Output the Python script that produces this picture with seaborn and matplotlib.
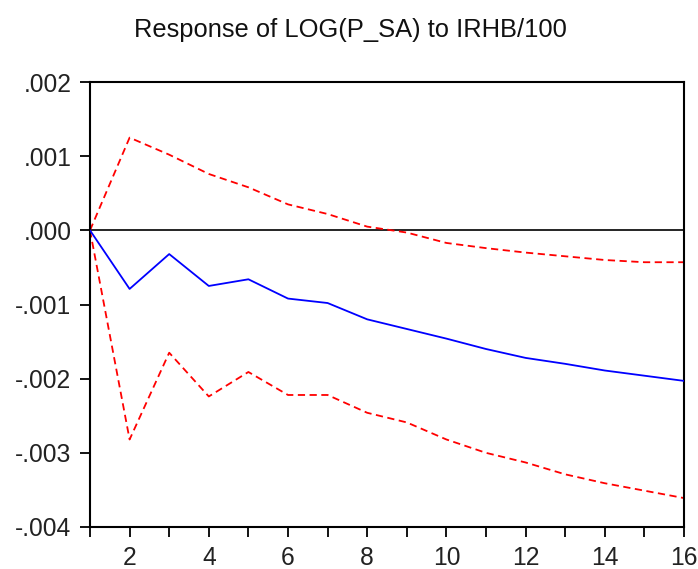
import matplotlib
matplotlib.use("Agg")
import matplotlib.pyplot as plt
import matplotlib.ticker as mticker
import seaborn as sns
import pandas as pd

periods = list(range(1, 17))
response = [0.0, -0.00079, -0.00032, -0.00075, -0.00066, -0.00092, -0.00098, -0.00120,
            -0.00133, -0.00146, -0.00160, -0.00172, -0.00180, -0.00189, -0.00196, -0.00203]
upper = [0.0, 0.00125, 0.00102, 0.00076, 0.00058, 0.00035, 0.00022, 0.00005,
         -0.00003, -0.00017, -0.00024, -0.00030, -0.00035, -0.00040, -0.00043, -0.00043]
lower = [0.0, -0.00282, -0.00165, -0.00224, -0.00191, -0.00222, -0.00222, -0.00246,
         -0.00259, -0.00282, -0.00300, -0.00313, -0.00329, -0.00341, -0.00351, -0.00361]
title = "Response of LOG(P_SA) to IRHB/100"
y_ticks = [-0.004, -0.003, -0.002, -0.001, 0.0, 0.001, 0.002]
x_label_ticks = [2, 4, 6, 8, 10, 12, 14, 16]

df = pd.DataFrame({"period": periods, "response": response, "upper": upper, "lower": lower})

sns.set_style("white")
plt.rcParams["font.family"] = ["Liberation Sans", "DejaVu Sans"]

fig = plt.figure(figsize=(6.98, 5.69), dpi=100)
ax = fig.add_axes([90/698, 1-527/569, (684-90)/698, (527-82)/569])

ax.axhline(0, color="black", lw=1.2, zorder=1)
sns.lineplot(data=df, x="period", y="upper", ax=ax, color="#ff0000", lw=1.3,
             linestyle=(0, (4, 2.5)), zorder=2)
sns.lineplot(data=df, x="period", y="lower", ax=ax, color="#ff0000", lw=1.3,
             linestyle=(0, (4, 2.5)), zorder=2)
sns.lineplot(data=df, x="period", y="response", ax=ax, color="#0000ff", lw=1.3, zorder=3)

ax.set_xlim(1, 16)
ax.set_ylim(-0.004, 0.002)
ax.set_xticks(x_label_ticks)
ax.set_xticks(periods, minor=True)
ax.set_yticks(y_ticks)

def fmt(v, pos):
    s = f"{v:.3f}"
    if s.startswith("-0"):
        return "-" + s[2:]
    if s.startswith("0"):
        return s[1:]
    return s

ax.yaxis.set_major_formatter(mticker.FuncFormatter(fmt))
ax.set_xlabel("")
ax.set_ylabel("")
ax.tick_params(axis="both", which="both", direction="out", length=7, width=1.3,
               color="black", labelsize=17.7, labelcolor="#222222",
               bottom=True, left=True)
ax.tick_params(axis="y", pad=6.3)
ax.tick_params(axis="x", pad=6.5)
ax.tick_params(axis="x", which="minor", labelbottom=False)
for s in ax.spines.values():
    s.set_color("black")
    s.set_linewidth(1.5)

fig.text(350/698, 1-30/569, title, ha="center", va="center", fontsize=18.4, color="#111111")

fig.savefig("out.png", dpi=100)
